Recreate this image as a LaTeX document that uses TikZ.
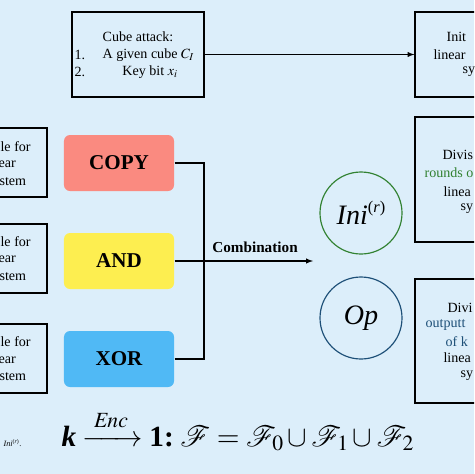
\documentclass[tikz,border=0pt]{standalone}
\usepackage{amsmath}
\usepackage{mathptmx}
\usepackage{mathrsfs}
\usepackage{fontspec}
\setmainfont{Liberation Serif}
\definecolor{bgblue}{RGB}{220,238,250}
\definecolor{copyred}{RGB}{250,138,128}
\definecolor{andyellow}{RGB}{253,238,80}
\definecolor{xorblue}{RGB}{80,185,245}
\definecolor{inigreen}{RGB}{50,130,50}
\definecolor{opblue}{RGB}{30,80,120}
\begin{document}
\begin{tikzpicture}[x=0.03cm, y=-0.03cm, line width=1pt,
  txt/.style={inner sep=0pt, anchor=west, font=\fontsize{12}{14}\selectfont},
  frame/.style={draw, rectangle, inner sep=0pt},
  gate/.style={rectangle, rounded corners=0.18cm, minimum width=3.3cm, minimum height=1.68cm, font=\fontsize{18}{20}\selectfont\bfseries},
  ring/.style={circle, draw, minimum size=2.46cm, inner sep=0pt, font=\fontsize{24}{26}\selectfont\itshape}]

\useasboundingbox (0,0) rectangle (474,474);
\fill[bgblue] (0,0) rectangle (474,474);
\clip (0,0) rectangle (474,474);

% cube attack input
\node[frame, minimum width=3.96cm, minimum height=2.55cm] (cube) at (138,54.5) {};
\node[txt, anchor=center] (cubetitle) at (138,37) {Cube attack:};
\node[txt] (item1) at (74,55) {1.};
\node[txt] (cubeci) at (102,55) {A given cube $C_I$};
\node[txt] (item2) at (74,72) {2.};
\node[txt, anchor=center] (keybit) at (150,72) {Key bit $x_i$};

% right column (cut off)
\node[frame, minimum width=3.6cm, minimum height=2.55cm] (initsys) at (475,54.5) {};
\node[txt] at (446,37) {Init};
\node[txt] at (433,55) {linear};
\node[txt] at (462,72) {sy};

\node[frame, minimum width=3.6cm, minimum height=3.75cm] (divr) at (475,179.5) {};
\node[txt] at (442,155) {Divis};
\node[txt, text=inigreen] at (424,173) {rounds o};
\node[txt] at (443,192) {linea};
\node[txt] at (460,209) {sy};

\node[frame, minimum width=3.6cm, minimum height=3.72cm] (divop) at (475,341) {};
\node[txt] at (447,308) {Divi};
\node[txt, text=opblue] at (425,325) {outputt};
\node[txt, text=opblue] at (445,342) {of k};
\node[txt] at (443,358) {linea};
\node[txt] at (460,376) {sy};

% left column (cut off)
\node[frame, minimum width=2.31cm, minimum height=2.07cm] (tab1) at (8.5,162.5) {};
\node[txt] at (0,147) {le for};
\node[txt] at (-2,164) {ear};
\node[txt] at (-1,182) {stem};

\node[frame, minimum width=2.31cm, minimum height=2.07cm] (tab2) at (8.5,258.5) {};
\node[txt] at (0,242) {le for};
\node[txt] at (-2,259) {ear};
\node[txt] at (-1,277) {stem};

\node[frame, minimum width=2.31cm, minimum height=2.07cm] (tab3) at (8.5,358.5) {};
\node[txt] at (0,342) {le for};
\node[txt] at (-2,360) {ear};
\node[txt] at (-1,377) {stem};

% operations
\node[gate, fill=copyred] (copy) at (119,163) {COPY};
\node[gate, fill=andyellow] (and) at (119,261) {AND};
\node[gate, fill=xorblue] (xor) at (119,359) {XOR};

\node[ring, draw=inigreen] (ini) at (361,213) {Ini\raisebox{0.42em}{\fontsize{14}{14}\selectfont\upshape(\textit{r})}};
\node[ring, draw=opblue] (op) at (361,318) {Op};

\coordinate (hub) at (204,261);
\coordinate (combend) at (313,261);

\draw[-latex] (cube) -- (initsys);
\draw (copy.east) -| (hub);
\draw (xor.east) -| (hub);
\draw[-latex] (and.east) -- (combend);
\node[txt, anchor=center, font=\fontsize{13}{15}\selectfont\bfseries] (combtext) at (255,247) {Combination};

% formula
\node[inner sep=0pt, anchor=base west, font=\fontsize{25}{28}\selectfont] (formula) at (61,446)
  {\textbf{\textit{k}}$\;\xrightarrow{\raisebox{2pt}{$\scriptstyle\;\mathit{Enc}\;$}}\;$\textbf{1:}$\;\mathscr{F} = \mathscr{F}_0 \cup \mathscr{F}_1 \cup \mathscr{F}_2$};
\node[inner sep=0pt, anchor=base west, font=\fontsize{7}{8}\selectfont] (note) at (3,446) {\textit{Ini}\textsuperscript{(\textit{r})}.};

\end{tikzpicture}
\end{document}
